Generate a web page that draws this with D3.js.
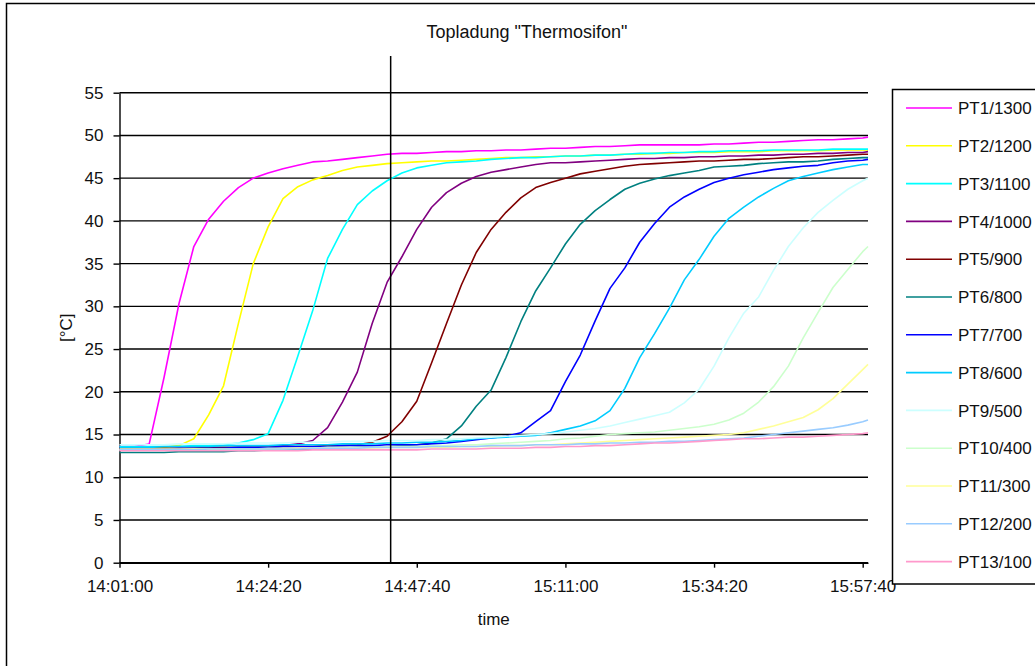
<!DOCTYPE html>
<meta charset="utf-8">
<script src="https://d3js.org/d3.v7.min.js"></script>
<style>
  body { margin: 0; background: #fff; }
  svg { display: block; font-family: "Liberation Sans", Arial, sans-serif; }
</style>
<div id="chart"></div>
<script>
// Messzeitpunkte (alle 2:20 min, letzter Punkt Ende der Messung)
const times = [
  "14:01:00","14:03:20","14:05:40","14:08:00","14:10:20","14:12:40","14:15:00","14:17:20","14:19:40","14:22:00",
  "14:24:20","14:26:40","14:29:00","14:31:20","14:33:40","14:36:00","14:38:20","14:40:40","14:43:00","14:45:20",
  "14:47:40","14:50:00","14:52:20","14:54:40","14:57:00","14:59:20","15:01:40","15:04:00","15:06:20","15:08:40",
  "15:11:00","15:13:20","15:15:40","15:18:00","15:20:20","15:22:40","15:25:00","15:27:20","15:29:40","15:32:00",
  "15:34:20","15:36:40","15:39:00","15:41:20","15:43:40","15:46:00","15:48:20","15:50:40","15:53:00","15:55:20",
  "15:57:40","15:58:30"
];
const tickLabels = ["14:01:00","14:24:20","14:47:40","15:11:00","15:34:20","15:57:40"];
const yTicks = [0, 5, 10, 15, 20, 25, 30, 35, 40, 45, 50, 55];
const markerTime = "14:43:34";

const seriesNames = ["PT1/1300","PT2/1200","PT3/1100","PT4/1000","PT5/900","PT6/800","PT7/700",
                     "PT8/600","PT9/500","PT10/400","PT11/300","PT12/200","PT13/100"];

const pt1 = [13.6,13.6,13.9,21.7,30.3,37.0,40.2,42.3,43.9,45.0, 45.6,46.1,46.5,46.9,47.0,47.2,47.4,47.6,47.8,47.9,
             47.9,48.0,48.1,48.1,48.2,48.2,48.3,48.3,48.4,48.5, 48.5,48.6,48.7,48.7,48.8,48.9,48.9,48.9,48.9,48.9,
             49.0,49.0,49.1,49.2,49.2,49.3,49.4,49.5,49.5,49.6, 49.7,49.8];
const pt2 = [13.3,13.3,13.4,13.5,13.7,14.5,17.3,20.7,28.0,35.0, 39.3,42.6,44.0,44.8,45.3,45.9,46.3,46.5,46.7,46.8,
             46.9,47.0,47.0,47.1,47.2,47.3,47.4,47.4,47.5,47.5, 47.6,47.6,47.7,47.7,47.8,47.8,47.9,47.9,48.0,48.0,
             48.0,48.1,48.1,48.1,48.2,48.2,48.2,48.2,48.3,48.3, 48.3,48.3];
const pt3 = [13.6,13.6,13.6,13.6,13.6,13.7,13.7,13.8,14.0,14.4, 15.1,19.0,24.2,29.5,35.6,39.0,41.9,43.5,44.7,45.6,
             46.2,46.5,46.8,46.9,47.0,47.2,47.3,47.4,47.4,47.5, 47.6,47.6,47.7,47.7,47.8,47.9,47.9,48.0,48.0,48.1,
             48.1,48.2,48.2,48.2,48.3,48.3,48.3,48.3,48.4,48.4, 48.4,48.4];
const pt4 = [13.3,13.3,13.3,13.3,13.3,13.4,13.4,13.4,13.5,13.5, 13.6,13.7,13.9,14.3,15.8,18.8,22.3,28.0,32.8,35.8,
             39.0,41.6,43.3,44.4,45.2,45.7,46.0,46.3,46.6,46.8, 46.8,46.9,47.0,47.1,47.2,47.3,47.3,47.4,47.4,47.5,
             47.5,47.6,47.6,47.7,47.7,47.8,47.8,47.9,47.9,48.0, 48.0,48.1];
const pt5 = [13.4,13.4,13.4,13.4,13.4,13.4,13.5,13.5,13.5,13.5, 13.5,13.6,13.6,13.6,13.7,13.7,13.8,14.1,14.8,16.5,
             18.9,23.4,28.0,32.5,36.3,39.0,41.0,42.7,43.9,44.5, 45.0,45.5,45.8,46.1,46.4,46.6,46.7,46.8,46.9,47.0,
             47.0,47.1,47.2,47.2,47.3,47.4,47.5,47.5,47.6,47.7, 47.8,47.8];
const pt6 = [12.9,12.9,12.9,12.9,13.0,13.0,13.0,13.0,13.1,13.1, 13.2,13.2,13.3,13.3,13.4,13.4,13.5,13.5,13.6,13.7,
             13.8,14.0,14.5,16.0,18.3,20.2,24.0,28.2,31.8,34.5, 37.3,39.6,41.2,42.5,43.7,44.4,44.9,45.3,45.6,45.9,
             46.3,46.4,46.5,46.7,46.8,46.9,46.9,47.0,47.2,47.3, 47.4,47.4];
const pt7 = [13.3,13.3,13.3,13.3,13.4,13.4,13.4,13.4,13.5,13.5, 13.5,13.6,13.6,13.6,13.6,13.7,13.7,13.7,13.8,13.8,
             13.8,13.9,14.0,14.2,14.4,14.6,14.8,15.2,16.5,17.8, 21.2,24.3,28.3,32.1,34.5,37.5,39.7,41.6,42.8,43.7,
             44.5,45.0,45.4,45.7,46.0,46.2,46.4,46.5,46.8,47.0, 47.1,47.2];
const pt8 = [13.5,13.5,13.5,13.6,13.6,13.6,13.6,13.7,13.7,13.7, 13.7,13.8,13.8,13.8,13.8,13.9,13.9,13.9,14.0,14.0,
             14.1,14.1,14.2,14.3,14.5,14.6,14.7,14.8,14.9,15.2, 15.6,16.0,16.6,17.8,20.4,24.0,26.8,29.8,33.1,35.5,
             38.2,40.3,41.6,42.8,43.8,44.7,45.2,45.6,46.0,46.3, 46.6,46.6];
const pt9 = [13.8,13.8,13.8,13.8,13.9,13.9,13.9,13.9,14.0,14.0, 14.0,14.0,14.1,14.1,14.1,14.2,14.2,14.2,14.3,14.3,
             14.3,14.4,14.4,14.5,14.6,14.7,14.8,14.9,15.0,15.1, 15.3,15.5,15.7,16.0,16.4,16.8,17.2,17.6,18.7,20.3,
             23.0,26.3,29.2,31.1,34.2,37.0,39.2,41.0,42.4,43.7, 44.7,45.0];
const pt10 = [13.2,13.2,13.2,13.2,13.2,13.3,13.3,13.3,13.3,13.3, 13.4,13.4,13.4,13.4,13.5,13.5,13.5,13.5,13.6,13.6,
              13.6,13.7,13.7,13.8,13.8,13.9,14.0,14.1,14.2,14.3, 14.5,14.6,14.8,15.0,15.1,15.2,15.3,15.5,15.7,15.9,
              16.2,16.7,17.5,18.8,20.6,23.0,26.3,29.3,32.2,34.3, 36.4,37.0];
const pt11 = [13.3,13.3,13.3,13.3,13.3,13.3,13.3,13.3,13.3,13.3, 13.3,13.3,13.4,13.4,13.4,13.4,13.4,13.4,13.5,13.5,
              13.5,13.5,13.5,13.6,13.6,13.6,13.7,13.7,13.8,13.8, 13.9,14.0,14.1,14.2,14.3,14.4,14.5,14.6,14.7,14.8,
              14.9,15.0,15.2,15.6,16.0,16.5,17.0,17.9,19.2,20.9, 22.6,23.2];
const pt12 = [13.2,13.2,13.2,13.2,13.2,13.2,13.3,13.3,13.3,13.3, 13.3,13.3,13.3,13.4,13.4,13.4,13.4,13.5,13.5,13.5,
              13.5,13.6,13.6,13.6,13.6,13.7,13.7,13.7,13.8,13.8, 13.8,13.9,13.9,14.0,14.0,14.1,14.1,14.2,14.2,14.3,
              14.4,14.5,14.6,14.8,15.0,15.2,15.4,15.6,15.8,16.1, 16.5,16.7];
const pt13 = [13.1,13.1,13.1,13.1,13.1,13.1,13.1,13.1,13.1,13.1, 13.1,13.1,13.1,13.2,13.2,13.2,13.2,13.2,13.2,13.2,
              13.2,13.3,13.3,13.3,13.3,13.4,13.4,13.4,13.5,13.5, 13.6,13.6,13.7,13.7,13.8,13.9,14.0,14.0,14.1,14.2,
              14.3,14.4,14.5,14.5,14.6,14.7,14.7,14.8,14.9,15.0, 15.1,15.2];

const seriesValues = [pt1, pt2, pt3, pt4, pt5, pt6, pt7, pt8, pt9, pt10, pt11, pt12, pt13];
const seriesColors = ["#ff00ff","#ffff00","#00ffff","#800080","#800000","#008080","#0000ff",
                      "#00ccff","#ccffff","#ccffcc","#ffff99","#99ccff","#ff99cc"];

// Zeichenfläche
const W = 1035, H = 666;
const plot = {left: 119.5, right: 868, top: 92.7, bottom: 562.7};

const svg = d3.select("#chart").append("svg")
    .attr("width", W)
    .attr("height", H);

// Rahmen um das ganze Diagramm
svg.append("rect")
    .attr("x", 6.5).attr("y", 3.5)
    .attr("width", 1040).attr("height", 680)
    .attr("fill", "none").attr("stroke", "#000").attr("stroke-width", 1.5);

const parseTime = d3.timeParse("%H:%M:%S");
const fmt = d3.timeFormat("%H:%M:%S");

const x = d3.scaleTime()
    .domain([parseTime(times[0]), parseTime(times[times.length - 1])])
    .range([plot.left, plot.right]);

const y = d3.scaleLinear()
    .domain([0, 55])
    .range([plot.bottom, plot.top]);

// Gitterlinien
svg.append("g")
  .selectAll("line")
  .data(yTicks)
  .join("line")
    .attr("x1", plot.left).attr("x2", plot.right)
    .attr("y1", d => y(d)).attr("y2", d => y(d))
    .attr("stroke", "#000").attr("stroke-width", 1.4);

// Achsen
const yAxis = svg.append("g")
    .attr("transform", `translate(${plot.left},0)`)
    .call(d3.axisLeft(y).tickValues(yTicks).tickSize(6).tickSizeOuter(0).tickPadding(10));

const xAxis = svg.append("g")
    .attr("transform", `translate(0,${plot.bottom})`)
    .call(d3.axisBottom(x)
      .tickValues(tickLabels.map(parseTime))
      .tickFormat(fmt)
      .tickSize(5).tickSizeOuter(0).tickPadding(12.5));

[xAxis, yAxis].forEach(g => {
  g.selectAll("path, line").attr("stroke", "#000").attr("stroke-width", 1.4);
  g.selectAll("text").attr("fill", "#111").style("font-size", "17px")
    .style("font-family", "'Liberation Sans', Arial, sans-serif");
});

// Messkurven
const line = d3.line()
    .x((d, i) => x(parseTime(times[i])))
    .y(d => y(d));

svg.append("g")
  .selectAll("path")
  .data(seriesValues)
  .join("path")
    .attr("d", d => line(d))
    .attr("fill", "none")
    .attr("stroke", (d, i) => seriesColors[i])
    .attr("stroke-width", 1.6)
    .attr("stroke-linejoin", "round");

// Markierungslinie
svg.append("line")
    .attr("x1", x(parseTime(markerTime))).attr("x2", x(parseTime(markerTime)))
    .attr("y1", 56).attr("y2", plot.bottom)
    .attr("stroke", "#000").attr("stroke-width", 1.5);

// Titel und Achsenbeschriftungen
svg.append("text")
    .attr("x", 527).attr("y", 37.5)
    .attr("text-anchor", "middle")
    .style("font-size", "18px").attr("fill", "#111")
    .text('Topladung "Thermosifon"');

svg.append("text")
    .attr("x", (plot.left + plot.right) / 2).attr("y", 625)
    .attr("text-anchor", "middle")
    .style("font-size", "17px").attr("fill", "#111")
    .text("time");

svg.append("text")
    .attr("transform", `translate(72,${(plot.top + plot.bottom) / 2}) rotate(-90)`)
    .attr("text-anchor", "middle")
    .style("font-size", "17px").attr("fill", "#111")
    .text("[°C]");

// Legende
const legend = svg.append("g");
legend.append("rect")
    .attr("x", 892.5).attr("y", 89.5)
    .attr("width", 200).attr("height", 494.5)
    .attr("fill", "#fff").attr("stroke", "#000").attr("stroke-width", 1.5);

const item = legend.selectAll("g.item")
  .data(seriesNames)
  .join("g")
    .attr("class", "item")
    .attr("transform", (d, i) => `translate(0,${108 + i * 37.8})`);

item.append("line")
    .attr("x1", 906).attr("x2", 952)
    .attr("stroke", (d, i) => seriesColors[i])
    .attr("stroke-width", 1.6);

item.append("text")
    .attr("x", 958).attr("dy", "0.36em")
    .style("font-size", "17px").attr("fill", "#111")
    .text(d => d);
</script>
